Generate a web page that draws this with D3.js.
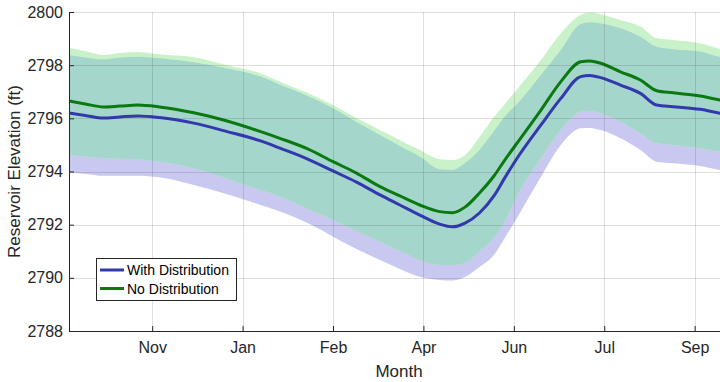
<!DOCTYPE html>
<html>
<head>
<meta charset="utf-8">
<script src="https://cdn.jsdelivr.net/npm/d3@7"></script>
<style>
  body { margin: 0; background: #fff; }
  svg { display: block; font-family: "Liberation Sans", Arial, sans-serif; }
</style>
</head>
<body>
<svg id="chart" width="720" height="382"></svg>
<script>
// day of water year (0 = start of Oct)
const days = [0, 9, 19, 28, 38, 50, 69, 87, 106, 117, 132, 146, 159, 172, 183, 194, 205, 212, 219, 227,
  235, 241, 249, 261, 272, 283, 288, 294, 305, 316, 325, 334, 349, 360, 365];

const withMean = [2796.20, 2796.11, 2796.01, 2796.05, 2796.09, 2796.03, 2795.82, 2795.51, 2795.15, 2794.87,
  2794.47, 2794.02, 2793.60, 2793.12, 2792.74, 2792.36, 2792.02, 2791.92, 2792.06, 2792.44,
  2793.08, 2793.76, 2794.62, 2795.75, 2796.75, 2797.57, 2797.61, 2797.53, 2797.25, 2796.94,
  2796.50, 2796.44, 2796.34, 2796.19, 2796.13];
const withUpper = [2798.38, 2798.29, 2798.22, 2798.29, 2798.32, 2798.26, 2798.11, 2797.88, 2797.57, 2797.25,
  2796.84, 2796.38, 2795.86, 2795.37, 2794.96, 2794.56, 2794.08, 2794.06, 2794.32, 2794.81,
  2795.52, 2796.07, 2796.63, 2797.63, 2798.57, 2799.55, 2799.61, 2799.57, 2799.39, 2799.07,
  2798.69, 2798.60, 2798.51, 2798.31, 2798.27];
const withLower = [2793.95, 2793.91, 2793.84, 2793.84, 2793.84, 2793.78, 2793.49, 2793.15, 2792.74, 2792.49,
  2792.06, 2791.55, 2791.08, 2790.67, 2790.33, 2790.04, 2789.92, 2789.90, 2790.03, 2790.41,
  2790.86, 2791.50, 2792.40, 2793.80, 2795.00, 2795.63, 2795.64, 2795.56, 2795.25, 2794.81,
  2794.37, 2794.31, 2794.21, 2794.06, 2794.02];

const noMean = [2796.65, 2796.54, 2796.43, 2796.46, 2796.50, 2796.43, 2796.21, 2795.91, 2795.50, 2795.24,
  2794.85, 2794.37, 2793.94, 2793.43, 2793.08, 2792.74, 2792.49, 2792.45, 2792.66, 2793.19,
  2793.83, 2794.43, 2795.18, 2796.31, 2797.38, 2798.13, 2798.16, 2798.07, 2797.75, 2797.44,
  2797.04, 2796.96, 2796.84, 2796.69, 2796.63];
const noUpper = [2798.65, 2798.53, 2798.38, 2798.46, 2798.50, 2798.41, 2798.30, 2798.01, 2797.69, 2797.37,
  2796.95, 2796.50, 2796.01, 2795.56, 2795.18, 2794.81, 2794.46, 2794.43, 2794.62, 2795.30,
  2796.05, 2796.54, 2797.19, 2798.19, 2799.20, 2799.89, 2799.98, 2799.92, 2799.70, 2799.45,
  2799.01, 2798.95, 2798.82, 2798.61, 2798.53];
const noLower = [2794.62, 2794.56, 2794.50, 2794.48, 2794.46, 2794.37, 2794.12, 2793.74, 2793.30, 2793.04,
  2792.59, 2792.18, 2791.76, 2791.36, 2791.01, 2790.67, 2790.48, 2790.48, 2790.56, 2791.01,
  2791.50, 2792.14, 2793.24, 2794.50, 2795.56, 2796.25, 2796.28, 2796.19, 2795.87, 2795.44,
  2795.06, 2795.00, 2794.87, 2794.74, 2794.70];

const xTickDays = [46, 96, 146, 196, 246, 296, 346];
const xTickLabels = ["Nov", "Jan", "Feb", "Apr", "Jun", "Jul", "Sep"];
const yTicks = [2788, 2790, 2792, 2794, 2796, 2798, 2800];
const legendLabels = ["With Distribution", "No Distribution"];

const plotLeft = 69, plotRight = 729, plotTop = 12, plotBottom = 331;
const axisColor = "#262626";

const svg = d3.select("#chart");

const x = d3.scaleLinear().domain([0, 365]).range([plotLeft, plotRight]);
const y = d3.scaleLinear().domain([2788, 2800]).range([plotBottom, plotTop]);

const defs = svg.append("defs");
defs.append("clipPath").attr("id", "plot-clip")
  .append("rect")
  .attr("x", plotLeft).attr("y", plotTop)
  .attr("width", plotRight - plotLeft).attr("height", plotBottom - plotTop);

const rows = days.map((d, i) => ({
  d: d,
  wm: withMean[i], wu: withUpper[i], wl: withLower[i],
  nm: noMean[i], nu: noUpper[i], nl: noLower[i]
}));

const bandWith = d3.area().curve(d3.curveMonotoneX)
  .x(r => x(r.d)).y0(r => y(r.wl)).y1(r => y(r.wu));
const bandNo = d3.area().curve(d3.curveMonotoneX)
  .x(r => x(r.d)).y0(r => y(r.nl)).y1(r => y(r.nu));

// overlap of the two bands gets its own colour
defs.append("clipPath").attr("id", "with-clip")
  .append("path").attr("d", bandWith(rows));

const plot = svg.append("g").attr("clip-path", "url(#plot-clip)");

plot.append("path").attr("d", bandWith(rows)).attr("fill", "#c8c8f0");
plot.append("path").attr("d", bandNo(rows)).attr("fill", "#caf2ca");
plot.append("g").attr("clip-path", "url(#with-clip)")
  .append("path").attr("d", bandNo(rows)).attr("fill", "#a5d6cb");

// grid
const grid = svg.append("g")
  .attr("stroke", axisColor).attr("stroke-opacity", 0.15).attr("stroke-width", 1);
grid.selectAll(".gx").data(xTickDays).join("line")
  .attr("x1", d => Math.round(x(d)) + 0.5).attr("x2", d => Math.round(x(d)) + 0.5)
  .attr("y1", plotTop).attr("y2", plotBottom);
grid.selectAll(".gy").data(yTicks.slice(1)).join("line")
  .attr("x1", plotLeft).attr("x2", plotRight)
  .attr("y1", d => Math.round(y(d)) + 0.5).attr("y2", d => Math.round(y(d)) + 0.5);

// mean lines
const lineWith = d3.line().curve(d3.curveMonotoneX).x(r => x(r.d)).y(r => y(r.wm));
const lineNo = d3.line().curve(d3.curveMonotoneX).x(r => x(r.d)).y(r => y(r.nm));

plot.append("path").attr("d", lineWith(rows))
  .attr("fill", "none").attr("stroke", "#3238ad").attr("stroke-width", 3);
plot.append("path").attr("d", lineNo(rows))
  .attr("fill", "none").attr("stroke", "#0a7a10").attr("stroke-width", 3);

// axes
const xAxis = d3.axisBottom(x)
  .tickValues(xTickDays)
  .tickFormat((d, i) => xTickLabels[i])
  .tickSizeInner(-5).tickSizeOuter(0).tickPadding(11);

const yAxis = d3.axisLeft(y)
  .tickValues(yTicks)
  .tickFormat(d3.format("d"))
  .tickSizeInner(-5).tickSizeOuter(0).tickPadding(6);

const gx = svg.append("g").attr("transform", "translate(0," + plotBottom + ")").call(xAxis);
const gy = svg.append("g").attr("transform", "translate(" + plotLeft + ",0)").call(yAxis);

[gx, gy].forEach(g => {
  g.select(".domain").attr("stroke", axisColor);
  g.selectAll(".tick line").attr("stroke", axisColor);
  g.selectAll(".tick text")
    .attr("fill", axisColor)
    .style("font-size", "16px")
    .style("font-family", "'Liberation Sans', Arial, sans-serif");
});

svg.append("text")
  .attr("x", 399).attr("y", 377)
  .attr("text-anchor", "middle")
  .attr("fill", axisColor)
  .style("font-size", "17px")
  .text("Month");

svg.append("text")
  .attr("transform", "translate(20," + ((plotTop + plotBottom) / 2) + ") rotate(-90)")
  .attr("text-anchor", "middle")
  .attr("fill", axisColor)
  .style("font-size", "17px")
  .text("Reservoir Elevation (ft)");

// legend
const legend = svg.append("g").attr("transform", "translate(96,258)");
legend.append("rect")
  .attr("x", 0.5).attr("y", 0.5).attr("width", 140).attr("height", 42)
  .attr("fill", "#fff").attr("stroke", axisColor).attr("stroke-width", 1);

const legendColors = ["#3238ad", "#0a7a10"];
legendLabels.forEach((label, i) => {
  const ly = 12 + i * 18.5;
  legend.append("line")
    .attr("x1", 4).attr("x2", 28).attr("y1", ly).attr("y2", ly)
    .attr("stroke", legendColors[i]).attr("stroke-width", 3);
  legend.append("text")
    .attr("x", 31).attr("y", ly + 5)
    .attr("fill", "#000")
    .style("font-size", "14px")
    .text(label);
});
</script>
</body>
</html>
